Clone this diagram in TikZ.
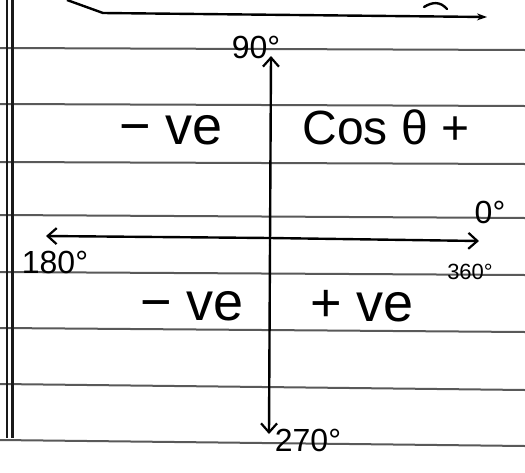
\documentclass[tikz,border=0pt]{standalone}
\usepackage{fontspec}
\setmainfont{Liberation Sans}
\usetikzlibrary{arrows.meta}
\begin{document}
\begin{tikzpicture}[x=1pt,y=-1pt,
  rule/.style={draw=black!65,line width=2pt},
  axis/.style={draw=black,line width=2.4pt},
  tip/.style={-{Straight Barb[length=9pt,width=16pt,line width=2.2pt]}},
  hand/.style={font=\fontsize{54}{58}\selectfont,inner sep=0pt},
  deg/.style={font=\fontsize{32}{36}\selectfont,inner sep=0pt}]
\useasboundingbox[fill=white] (0,0) rectangle (525,472);
% ruled lines
\foreach \yy/\dy in {48/2,104/2,162/2,215/3,272/3,328/4,384/6,440/6}
  \draw[rule] (0,\yy) -- (525,\yy+\dy);
% margin
\draw[draw=black!90,line width=2.2pt] (7,0) -- (7,438);
\draw[draw=black!90,line width=2.2pt] (12.5,0) -- (12.5,438);
% top stroke
\coordinate (t0) at (67,0);
\coordinate (t1) at (103,13);
\coordinate (t2) at (487,17);
\draw[axis,-{Stealth[length=10pt,width=7pt]}] (t0) -- (t1) -- (t2);
\coordinate (s0) at (424,7);
\coordinate (s1) at (447,9);
\draw[axis,line cap=round] (s0) .. controls (432,2) and (440,1) .. (s1);
% axes
\coordinate (up) at (271,56);
\coordinate (dn) at (269,434);
\coordinate (lf) at (46,236);
\coordinate (rt) at (479,241);
\draw[axis,tip] (270,245) -- (up);
\draw[axis,tip] (270,245) -- (dn);
\draw[axis,tip] (270,238) -- (lf);
\draw[axis,tip] (270,238) -- (rt);
% labels
\node[deg] (l90) at (256,47) {90°};
\node[deg] (l0) at (490,212) {0°};
\node[deg] (l180) at (55,262) {180°};
\node[deg,font=\fontsize{22}{26}\selectfont] (l360) at (470,272) {360°};
\node[deg] (l270) at (308,440) {270°};
\node[hand] (q2) at (171,130) {− ve};
\node[hand,font=\fontsize{48}{52}\selectfont] (q1) at (386,127) {Cos θ +};
\node[hand] (q3) at (192,306) {− ve};
\node[hand] (q4) at (362,306) {+ ve};
\end{tikzpicture}
\end{document}
